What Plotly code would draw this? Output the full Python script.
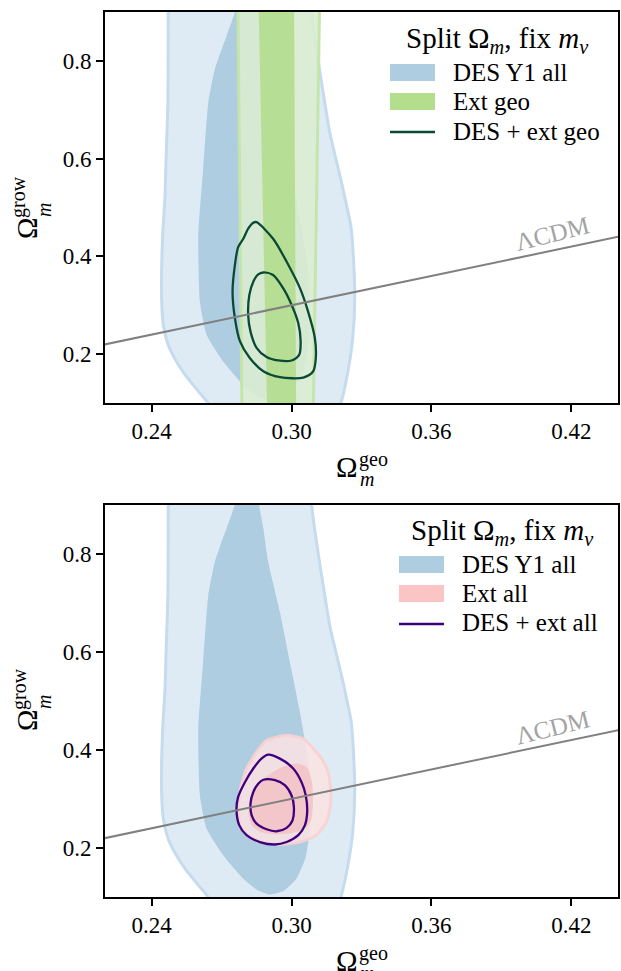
import plotly.graph_objects as go

# ---------------- data ----------------
x_range = [0.22, 0.44]
y_range = [0.1, 0.9]
x_ticks = [0.24, 0.30, 0.36, 0.42]
x_tick_labels = ["0.24", "0.30", "0.36", "0.42"]
y_ticks = [0.2, 0.4, 0.6, 0.8]
y_tick_labels = ["0.2", "0.4", "0.6", "0.8"]

# DES Y1 all: 95% contour
des_outer_x = [0.2471, 0.2471, 0.2470, 0.2462, 0.2457, 0.2448, 0.2443, 0.2443, 0.2450, 0.2470, 0.2500,
               0.2540, 0.2590, 0.2636, 0.2690, 0.3190, 0.3214, 0.3240, 0.3262, 0.3271, 0.3265, 0.3255,
               0.3214, 0.3164, 0.3129, 0.3105, 0.3086, 0.3080, 0.2471]
des_outer_y = [0.98, 0.90, 0.72, 0.60, 0.52, 0.45, 0.38, 0.31, 0.26, 0.22, 0.19,
               0.16, 0.13, 0.104, 0.07, 0.07, 0.104, 0.160, 0.23, 0.314, 0.40, 0.46,
               0.552, 0.653, 0.755, 0.83, 0.90, 0.98, 0.98]
# DES Y1 all: 68% contour
des_inner_x = [0.2790, 0.2757, 0.2721, 0.2671, 0.2643, 0.2621, 0.2600, 0.2607, 0.2636, 0.2707, 0.2793,
               0.2850, 0.2907, 0.2965, 0.3021, 0.3060, 0.3075, 0.3079, 0.3071, 0.3036, 0.2993, 0.2950,
               0.2900, 0.2879, 0.2861, 0.2850, 0.2790]
des_inner_y = [0.98, 0.90, 0.851, 0.783, 0.715, 0.579, 0.443, 0.307, 0.239, 0.185, 0.137,
               0.115, 0.105, 0.112, 0.137, 0.180, 0.225, 0.273, 0.375, 0.477, 0.579, 0.681,
               0.783, 0.851, 0.90, 0.98, 0.98]

# Ext geo: 95% and 68% bands
extgeo_outer_x = [0.2768, 0.2788, 0.3092, 0.3123, 0.2768]
extgeo_outer_y = [1.0, 0.05, 0.05, 1.0, 1.0]
extgeo_inner_x = [0.2855, 0.2897, 0.3020, 0.3010, 0.2855]
extgeo_inner_y = [1.0, 0.05, 0.05, 1.0, 1.0]

# DES + ext geo: 95% and 68% contours
desgeo_outer_x = [0.2850, 0.2921, 0.2979, 0.3036, 0.3071, 0.3100, 0.3104, 0.3093, 0.3050, 0.2950,
                  0.2879, 0.2821, 0.2779, 0.2757, 0.2747, 0.2757, 0.2771, 0.2793, 0.2814, 0.2836, 0.2850]
desgeo_outer_y = [0.470, 0.436, 0.389, 0.335, 0.287, 0.233, 0.192, 0.165, 0.152, 0.153,
                  0.165, 0.192, 0.226, 0.274, 0.328, 0.382, 0.419, 0.436, 0.457, 0.469, 0.470]
desgeo_inner_x = [0.2879, 0.2921, 0.2964, 0.3000, 0.3029, 0.3039, 0.3033, 0.3000, 0.2943, 0.2893,
                  0.2850, 0.2824, 0.2814, 0.2819, 0.2836, 0.2857, 0.2879]
desgeo_inner_y = [0.367, 0.362, 0.335, 0.301, 0.263, 0.226, 0.199, 0.187, 0.187, 0.194,
                  0.213, 0.246, 0.280, 0.321, 0.348, 0.363, 0.367]

# Ext all: 95% and 68% contours
extall_outer_x = [0.2893, 0.2979, 0.3050, 0.3093, 0.3129, 0.3157, 0.3167, 0.3167, 0.3150, 0.3107,
                  0.3036, 0.2950, 0.2864, 0.2807, 0.2779, 0.2771, 0.2781, 0.2807, 0.2850, 0.2893]
extall_outer_y = [0.4195, 0.4296, 0.423, 0.4025, 0.382, 0.355, 0.321, 0.287, 0.253, 0.226,
                  0.212, 0.207, 0.212, 0.226, 0.246, 0.280, 0.321, 0.362, 0.3957, 0.4195]
extall_inner_x = [0.2893, 0.2964, 0.3030, 0.3070, 0.3089, 0.3092, 0.3085, 0.3060, 0.3000, 0.2930,
                  0.2870, 0.2830, 0.2815, 0.2825, 0.2850, 0.2893]
extall_inner_y = [0.346, 0.366, 0.372, 0.362, 0.330, 0.290, 0.258, 0.240, 0.230, 0.228,
                  0.232, 0.245, 0.270, 0.300, 0.325, 0.346]

# DES + ext all: 95% and 68% contours
desall_outer_x = [0.2900, 0.2950, 0.3007, 0.3043, 0.3061, 0.3067, 0.3057, 0.3029, 0.2979, 0.2929,
                  0.2864, 0.2807, 0.2776, 0.2764, 0.2771, 0.2800, 0.2836, 0.2871, 0.2900]
desall_outer_y = [0.390, 0.382, 0.362, 0.334, 0.307, 0.273, 0.246, 0.226, 0.212, 0.207,
                  0.212, 0.226, 0.246, 0.277, 0.304, 0.334, 0.362, 0.382, 0.390]
desall_inner_x = [0.2879, 0.2929, 0.2971, 0.3000, 0.3010, 0.3004, 0.2979, 0.2936, 0.2893, 0.2850,
                  0.2829, 0.2824, 0.2836, 0.2857, 0.2879]
desall_inner_y = [0.339, 0.338, 0.328, 0.307, 0.2835, 0.256, 0.241, 0.234, 0.238, 0.2495,
                  0.2665, 0.290, 0.314, 0.331, 0.339]

# LCDM line: Omega_grow = Omega_geo
lcdm_x = [0.0, 1.0]
lcdm_y = [0.0, 1.0]
lcdm_label_pos = [0.412, 0.446]

legend_title = "Split Ω<sub><i>m</i></sub>, fix <i>m</i><sub><i>ν</i></sub>"
top_labels = ["DES Y1 all", "Ext geo", "DES + ext geo"]
bottom_labels = ["DES Y1 all", "Ext all", "DES + ext all"]

# ---------------- style ----------------
FONT = "Liberation Serif, serif"
W, H = 621, 971
ML, MR, MT, MB = 105, 3, 12, 74

C_DES_OUT = "#deebf4"
C_DES_OUT_EDGE = "#c6dbee"
C_DES_IN = "#afcde1"
C_GEO_OUT = "rgba(219,237,208,0.88)"
C_GEO_OUT_EDGE = "rgba(196,229,168,0.95)"
C_GEO_IN = "rgba(179,221,143,0.92)"
C_GEO_PATCH = "#b3df8c"
C_ALL_OUT = "rgba(250,226,227,0.88)"
C_ALL_OUT_EDGE = "rgba(250,208,209,0.9)"
C_ALL_IN = "rgba(243,196,199,0.92)"
C_ALL_PATCH = "#fcc5c5"
C_GEO_LINE = "#0a4a35"
C_ALL_LINE = "#3f007d"


def P(xp, yp):
    return (xp - ML) / (W - ML - MR), (H - MB - yp) / (H - MT - MB)


fig = go.Figure()


def fill(xs, ys, color, xa, ya, edge=None, ew=0, shape="spline"):
    fig.add_trace(go.Scatter(
        x=xs, y=ys, xaxis=xa, yaxis=ya, mode="lines", fill="toself",
        fillcolor=color, line=dict(color=edge if edge else "rgba(0,0,0,0)", width=ew,
                                   shape=shape, smoothing=0.5),
        hoverinfo="skip", showlegend=False))


def outline(xs, ys, color, xa, ya):
    fig.add_trace(go.Scatter(
        x=xs, y=ys, xaxis=xa, yaxis=ya, mode="lines",
        line=dict(color=color, width=2.3, shape="spline", smoothing=0.8),
        hoverinfo="skip", showlegend=False))


def lcdm(xa, ya):
    fig.add_trace(go.Scatter(
        x=lcdm_x, y=lcdm_y, xaxis=xa, yaxis=ya, mode="lines",
        line=dict(color="#808080", width=2), hoverinfo="skip", showlegend=False))


# top panel
fill(des_outer_x, des_outer_y, C_DES_OUT, "x", "y", C_DES_OUT_EDGE, 3)
fill(des_inner_x, des_inner_y, C_DES_IN, "x", "y")
fill(extgeo_outer_x, extgeo_outer_y, C_GEO_OUT, "x", "y", C_GEO_OUT_EDGE, 3, "linear")
fill(extgeo_inner_x, extgeo_inner_y, C_GEO_IN, "x", "y", None, 0, "linear")
outline(desgeo_outer_x, desgeo_outer_y, C_GEO_LINE, "x", "y")
outline(desgeo_inner_x, desgeo_inner_y, C_GEO_LINE, "x", "y")
lcdm("x", "y")

# bottom panel
fill(des_outer_x, des_outer_y, C_DES_OUT, "x2", "y2", C_DES_OUT_EDGE, 3)
fill(des_inner_x, des_inner_y, C_DES_IN, "x2", "y2")
fill(extall_outer_x, extall_outer_y, C_ALL_OUT, "x2", "y2", C_ALL_OUT_EDGE, 3)
fill(extall_inner_x, extall_inner_y, C_ALL_IN, "x2", "y2")
outline(desall_outer_x, desall_outer_y, C_ALL_LINE, "x2", "y2")
outline(desall_inner_x, desall_inner_y, C_ALL_LINE, "x2", "y2")
lcdm("x2", "y2")

top_dom = [P(0, 403)[1], 1.0]
bot_dom = [0.0, P(0, 504.5)[1]]

axis_common = dict(
    showline=True, linecolor="black", linewidth=1.7, mirror=True,
    ticks="outside", ticklen=7, tickwidth=1.5, tickcolor="black",
    showgrid=False, zeroline=False, automargin=False,
    tickfont=dict(family=FONT, size=23, color="black"),
)

fig.update_layout(
    width=W, height=H,
    margin=dict(l=ML, r=MR, t=MT, b=MB, autoexpand=False),
    paper_bgcolor="white", plot_bgcolor="white",
    showlegend=False,
    xaxis=dict(domain=[0, 1], range=x_range, tickvals=x_ticks, ticktext=x_tick_labels,
               anchor="y", **axis_common),
    yaxis=dict(domain=top_dom, range=y_range, tickvals=y_ticks, ticktext=y_tick_labels,
               anchor="x", **axis_common),
    xaxis2=dict(domain=[0, 1], range=x_range, tickvals=x_ticks, ticktext=x_tick_labels,
                anchor="y2", **axis_common),
    yaxis2=dict(domain=bot_dom, range=y_range, tickvals=y_ticks, ticktext=y_tick_labels,
                anchor="x2", **axis_common),
)

ann = []
shapes = []


def text(xp, yp, s, size, color="black", xanchor="center", angle=0):
    x, y = P(xp, yp)
    ann.append(dict(x=x, y=y, xref="paper", yref="paper", text=s, showarrow=False,
                    xanchor=xanchor, yanchor="middle", textangle=angle,
                    font=dict(family=FONT, size=size, color=color)))


for dy in (0, 494):
    # x axis title  Ω_m^geo
    text(347, 467 + dy, "Ω", 29)
    text(373, 459 + dy, "geo", 20)
    text(367, 479 + dy, "<i>m</i>", 20)

for dy in (0, 492):
    # y axis title  Ω_m^grow
    text(27, 228 + dy, "Ω", 29, angle=-90)
    text(19, 197 + dy, "grow", 20, angle=-90)
    text(44, 210 + dy, "<i>m</i>", 20, angle=-90)

# legends
for dy, dx, labels, patch, line_c in ((0, 0, top_labels, C_GEO_PATCH, C_GEO_LINE),
                                      (492, 9, bottom_labels, C_ALL_PATCH, C_ALL_LINE)):
    text(497 + dx * 0.55, 40 + dy, legend_title, 29)
    rows = [72.5, 101.5, 131]
    for i, lab in enumerate(labels):
        text(451 + dx, rows[i] + dy, lab, 25, xanchor="left")
    for i, col in enumerate((C_DES_IN, patch)):
        x0, y0 = P(390 + dx, rows[i] - 8.5 + dy)
        x1, y1 = P(435 + dx, rows[i] + 8.5 + dy)
        shapes.append(dict(type="rect", xref="paper", yref="paper", x0=x0, x1=x1, y0=y0, y1=y1,
                           fillcolor=col, line=dict(width=0)))
    x0, y0 = P(390 + dx, 132 + dy)
    x1, _ = P(435 + dx, 132 + dy)
    shapes.append(dict(type="line", xref="paper", yref="paper", x0=x0, x1=x1, y0=y0, y1=y0,
                       line=dict(color=line_c, width=2.5)))

# LCDM labels
for xr, yr in (("x", "y"), ("x2", "y2")):
    ann.append(dict(x=lcdm_label_pos[0], y=lcdm_label_pos[1], xref=xr, yref=yr, text="ΛCDM",
                    showarrow=False, xanchor="center", yanchor="middle", textangle=-14,
                    font=dict(family=FONT, size=25, color="#a3a3a3")))

fig.update_layout(annotations=ann, shapes=shapes)
fig.write_html("out.html", config={"displayModeBar": False},
               post_script="document.body.style.margin='0px';document.body.style.overflow='hidden';")
